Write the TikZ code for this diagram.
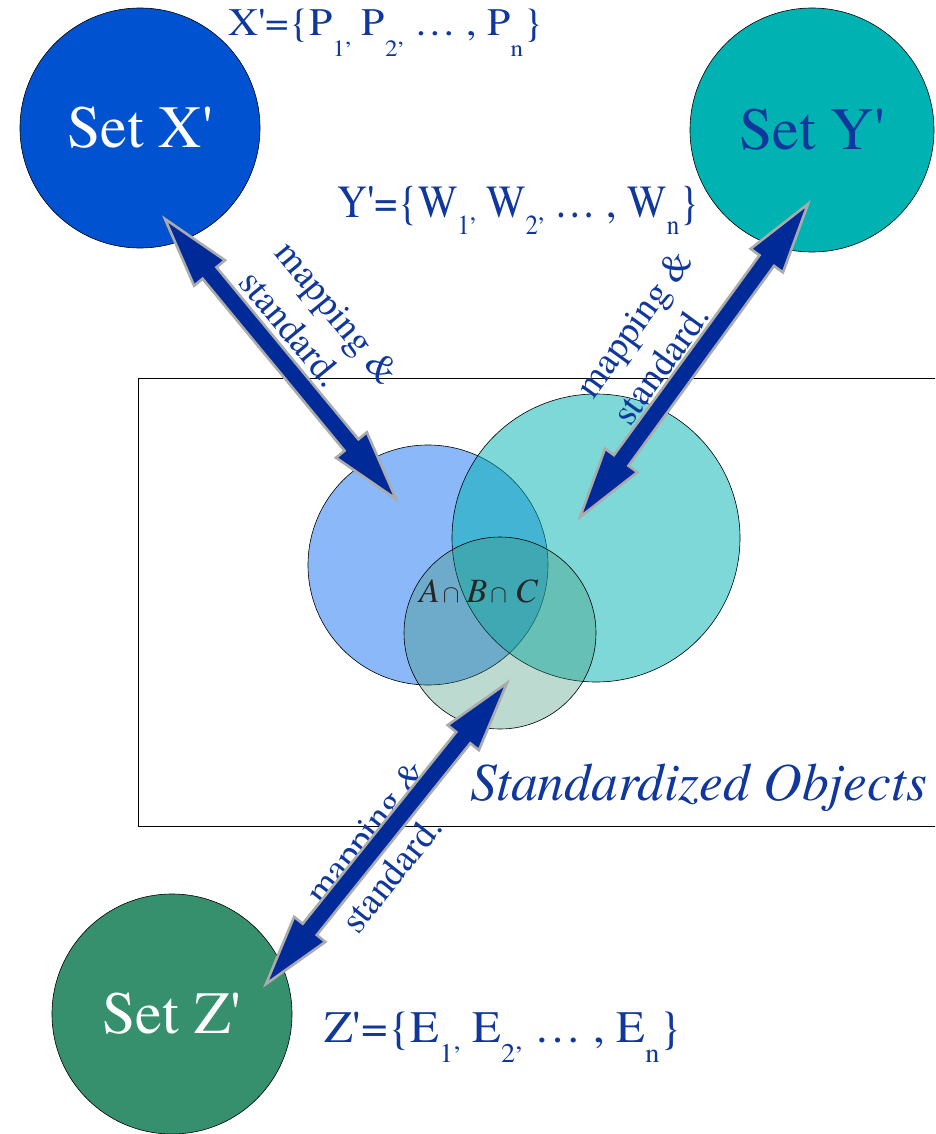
\documentclass[tikz,border=0pt]{standalone}
\usepackage{fontspec}
\setmainfont{texgyretermes}[Extension=.otf,UprightFont=*-regular,ItalicFont=*-italic,BoldFont=*-bold,BoldItalicFont=*-bolditalic]
\usetikzlibrary{calc}
\definecolor{setx}{RGB}{0,82,208}
\definecolor{sety}{RGB}{0,178,178}
\definecolor{setz}{RGB}{54,144,110}
\definecolor{vennA}{RGB}{138,184,248}
\definecolor{txtblue}{RGB}{16,56,156}
\definecolor{arrblue}{RGB}{0,42,152}
\def\arrhl{70pt}
\def\arrhw{20pt}
\def\arrsw{9pt}
\newcommand\blockarrow[2]{%
  \path ($(#1)!\arrhl!(#2)$) coordinate (bah1) ($(#2)!\arrhl!(#1)$) coordinate (bah2);
  \draw[blockarr] (#1) -- ($(bah1)!\arrhw!90:(#1)$) -- ($(bah1)!\arrsw!90:(#1)$)
    -- ($(bah2)!\arrsw!-90:(#2)$) -- ($(bah2)!\arrhw!-90:(#2)$) -- (#2)
    -- ($(bah2)!\arrhw!90:(#2)$) -- ($(bah2)!\arrsw!90:(#2)$)
    -- ($(bah1)!\arrsw!-90:(#1)$) -- ($(bah1)!\arrhw!-90:(#1)$) -- cycle;}
% subscript with a raised comma after it
\newcommand\subc[2]{\raisebox{#1}{\scalebox{0.6}{#2\raisebox{0.5em}{,}}}}
\newcommand\subn[2]{\raisebox{#1}{\scalebox{0.6}{#2}}}
\newcommand\capsym{{\fontsize{27}{27}\selectfont$\cap$}}
\begin{document}
\begin{tikzpicture}[x=1pt,y=-1pt,
  setnode/.style={circle,draw=black,line width=0.6pt,minimum size=240pt,inner sep=0pt,font=\fontsize{60}{60}\selectfont},
  venn/.style={circle,draw=black,line width=0.6pt,inner sep=0pt},
  blockarr/.style={fill=arrblue,draw=black!33,line width=2.6pt,line join=miter},
  lbl/.style={text=txtblue,align=left,font=\fontsize{38}{46}\selectfont,inner sep=0pt},
  formula/.style={text=txtblue,inner sep=0pt,anchor=base west}]
\useasboundingbox (0,0) rectangle (935,1134);
\clip (0,0) rectangle (935,1134);
\fill[white] (0,0) rectangle (935,1134);
% frame
\draw[line width=0.8pt] (138,378) rectangle (970,826);
% Venn circles
\node[venn,minimum size=240pt,fill=vennA] (A) at (428,565) {};
\node[venn,minimum size=288pt,fill=sety,fill opacity=0.5] (B) at (596,538) {};
\node[venn,minimum size=192pt,fill=setz,fill opacity=0.33] (C) at (500,633) {};
\node[formula,text=black!85,font=\fontsize{34}{34}\selectfont] (ABC) at (419,602)
  {\textit{A}\hspace{3pt}\capsym\hspace{7pt}\textit{B}\hspace{3pt}\capsym\hspace{8pt}\textit{C}};
% set circles
\node[setnode,fill=setx,text=white] (X) at (140,128) {Set X\textquotesingle};
\node[setnode,fill=sety,text=txtblue,minimum size=244pt] (Y) at (812,130) {Set Y\textquotesingle};
\node[setnode,fill=setz,text=white] (Z) at (172,1014) {Set Z\textquotesingle};
% formulas
\node[formula,font=\fontsize{39}{39}\selectfont] (FX) at (228,36)
  {\resizebox{315pt}{\height}{X\textquotesingle=\{P\subc{-0.52em}{1} P\subc{-0.52em}{2} \dots\ , P\subn{-0.52em}{n}\}}};
\node[formula,font=\fontsize{46}{46}\selectfont] (FY) at (337,218)
  {\resizebox{362pt}{\height}{Y\textquotesingle=\{W\subc{-0.36em}{1} W\subc{-0.36em}{2} \dots\ , W\subn{-0.36em}{n}\}}};
\node[formula,font=\fontsize{45}{45}\selectfont] (FZ) at (324,1042)
  {\resizebox{358pt}{\height}{Z\textquotesingle=\{E\subc{-0.46em}{1} E\subc{-0.46em}{2} \dots\ , E\subn{-0.46em}{n}\}}};
\node[formula,font=\fontsize{53.5}{53.5}\selectfont\itshape] (SO) at (470,800) {Standardized Objects};
% labels
\node[lbl,rotate=-50.6] (L1) at (320,327) {mapping \&\\standard.};
\node[lbl,rotate=54.1] (L2) at (652,337) {mapping \&\\standard.};
\node[lbl,rotate=51.3] (L3) at (384,846) {mapping \&\\standard.};
% arrows
\coordinate (a1s) at (165,219); \coordinate (a1e) at (396,499);
\coordinate (a2s) at (580,517); \coordinate (a2e) at (808,204);
\coordinate (a3s) at (507,683); \coordinate (a3e) at (266,984);
\blockarrow{a1s}{a1e}
\blockarrow{a2s}{a2e}
\blockarrow{a3s}{a3e}
\end{tikzpicture}
\end{document}
